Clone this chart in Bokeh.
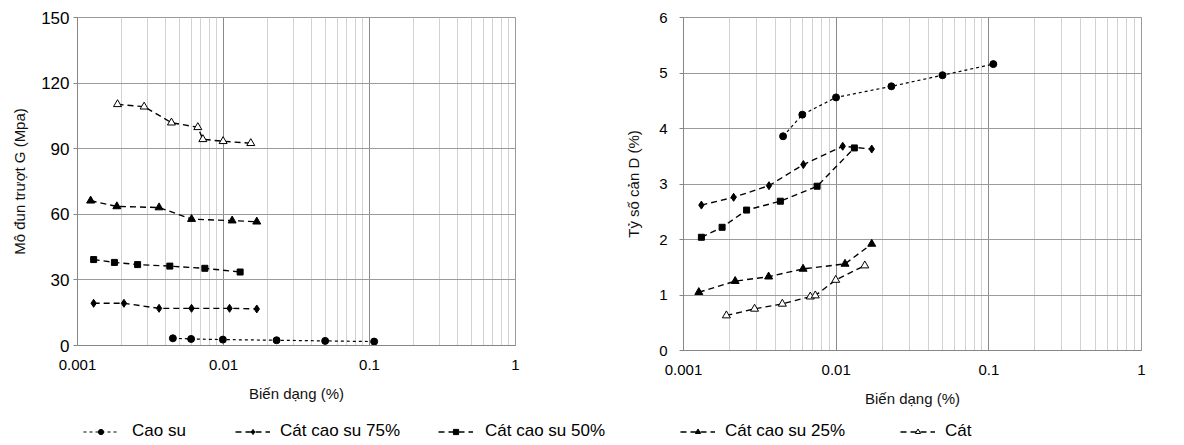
from bokeh.plotting import figure
from bokeh.layouts import column, row
from bokeh.models import (ColumnDataSource, Legend, LegendItem, FixedTicker,
                          Range1d, NumeralTickFormatter)
from bokeh.core.properties import value
from bokeh.embed import file_html
from bokeh.resources import INLINE

# ---------------- data ----------------
series_names = ["Cao su", "Cát cao su 75%", "Cát cao su 50%", "Cát cao su 25%", "Cát"]

# Left chart: shear modulus G (MPa) vs strain (%)
g_cao_su_x = [0.0045, 0.0060, 0.0099, 0.0231, 0.0497, 0.1076]
g_cao_su_y = [3.3, 3.0, 2.7, 2.4, 2.1, 1.8]
g_75_x = [0.00129, 0.00208, 0.00362, 0.00604, 0.0110, 0.0169]
g_75_y = [19.3, 19.3, 17.0, 17.0, 17.0, 16.7]
g_50_x = [0.00129, 0.00179, 0.00258, 0.00429, 0.00745, 0.0130]
g_50_y = [39.3, 38.0, 37.0, 36.3, 35.3, 33.6]
g_25_x = [0.00123, 0.00186, 0.00362, 0.00604, 0.01146, 0.0169]
g_25_y = [66.2, 63.6, 63.1, 57.8, 57.1, 56.6]
g_cat_x = [0.00188, 0.00286, 0.00440, 0.00667, 0.00722, 0.00994, 0.01538]
g_cat_y = [110.3, 109.2, 101.9, 99.8, 94.3, 93.4, 92.5]

# Right chart: damping ratio D (%) vs strain (%)
d_cao_su_x = [0.00449, 0.0060, 0.00998, 0.0230, 0.0497, 0.107]
d_cao_su_y = [3.86, 4.25, 4.56, 4.76, 4.96, 5.16]
d_75_x = [0.00131, 0.00213, 0.00363, 0.0061, 0.01104, 0.0171]
d_75_y = [2.62, 2.76, 2.97, 3.35, 3.68, 3.63]
d_50_x = [0.00131, 0.00179, 0.00259, 0.00431, 0.0075, 0.01316]
d_50_y = [2.04, 2.22, 2.53, 2.69, 2.96, 3.65]
d_25_x = [0.00126, 0.00218, 0.00361, 0.00607, 0.01143, 0.0171]
d_25_y = [1.05, 1.25, 1.33, 1.47, 1.56, 1.92]
d_cat_x = [0.00191, 0.00292, 0.00444, 0.00677, 0.0073, 0.00993, 0.0154]
d_cat_y = [0.63, 0.75, 0.84, 0.97, 0.99, 1.27, 1.53]

x_ticks = [0.001, 0.01, 0.1, 1]
g_ticks = [0, 30, 60, 90, 120, 150]
d_ticks = [0, 1, 2, 3, 4, 5, 6]

g_series = [(g_cao_su_x, g_cao_su_y), (g_75_x, g_75_y), (g_50_x, g_50_y),
            (g_25_x, g_25_y), (g_cat_x, g_cat_y)]
d_series = [(d_cao_su_x, d_cao_su_y), (d_75_x, d_75_y), (d_50_x, d_50_y),
            (d_25_x, d_25_y), (d_cat_x, d_cat_y)]

# ---------------- styles ----------------
FONT = "Liberation Sans"
styles = [
    dict(marker="circle", size=7, fill="black", dash="3 3", lw=1.2),
    dict(marker="diamond", size=8, fill="black", dash="6 4", lw=1.4),
    dict(marker="square", size=6, fill="black", dash="6 4", lw=1.4),
    dict(marker="triangle", size=8, fill="black", dash="6 4", lw=1.4),
    dict(marker="triangle", size=8, fill="white", dash="6 4", lw=1.4),
]
minor = [m * 10.0 ** e for e in (-3, -2, -1) for m in range(2, 10)]


def make_fig(series, yticks, ymax, ylabel, width, bl, br, bt, fw, fh,
             ylab_standoff, ytick_size, ytick_standoff):
    p = figure(width=width, height=410, x_axis_type="log",
               x_range=Range1d(0.001, 1), y_range=Range1d(0, ymax),
               output_backend="svg", toolbar_location=None,
               min_border_left=bl, min_border_right=br, min_border_top=bt,
               min_border_bottom=410 - bt - fh, frame_width=fw, frame_height=fh)
    p.xaxis.ticker = FixedTicker(ticks=x_ticks, minor_ticks=minor)
    p.xaxis.formatter = NumeralTickFormatter(format="0.[000]")
    p.yaxis.ticker = FixedTicker(ticks=yticks)
    p.xgrid.grid_line_color = "#8a8a8a"
    p.xgrid.minor_grid_line_color = "#d2d2d2"
    p.ygrid.grid_line_color = "#9a9a9a"
    p.outline_line_color = "#9a9a9a"
    for ax in (p.xaxis[0], p.yaxis[0]):
        ax.axis_line_color = "#868686"
        ax.major_tick_line_color = "#868686"
        ax.minor_tick_line_color = None
        ax.major_label_text_font = FONT
        ax.major_label_text_font_size = "15px"
        ax.major_label_text_color = "black"
        ax.axis_label_text_font = FONT
        ax.axis_label_text_font_size = "15px"
        ax.axis_label_text_font_style = "normal"
        ax.axis_label_text_color = "#111111"
    p.yaxis.major_label_text_font_size = ytick_size
    p.xaxis.major_tick_out = 0
    p.xaxis.major_tick_in = 0
    p.yaxis.major_tick_out = 4
    p.yaxis.major_tick_in = 0
    p.xaxis.major_label_standoff = 10
    p.yaxis.major_label_standoff = ytick_standoff
    p.xaxis.axis_label = "Biến dạng (%)"
    p.xaxis.axis_label_standoff = 12
    p.yaxis.axis_label = ylabel
    p.yaxis.axis_label_standoff = ylab_standoff
    for (xs, ys), st in zip(series, styles):
        src = ColumnDataSource(data=dict(x=xs, y=ys))
        p.line("x", "y", source=src, line_color="black", line_width=st["lw"],
               line_dash=st["dash"])
        p.scatter("x", "y", source=src, marker=st["marker"], size=st["size"],
                  fill_color=st["fill"], line_color="black", line_width=1)
    return p


p1 = make_fig(g_series, g_ticks, 150, "Mô đun trượt G (Mpa)", 600, 77, 85, 15, 438, 328,
              10, "17px", 4)
p2 = make_fig(d_series, d_ticks, 6, "Tỷ số cản D (%)", 584, 83, 43, 17, 458, 333,
              14, "15px", 12)

# ---------------- legend strip ----------------
pl = figure(width=1184, height=35, output_backend="svg", toolbar_location=None,
            x_axis_type=None, y_axis_type=None, min_border=0,
            x_range=Range1d(0, 1), y_range=Range1d(0, 1))
pl.outline_line_color = None
pl.xgrid.visible = False
pl.ygrid.visible = False
legend_x = [83, 235, 438, 680, 900]
legend_standoff = [14, 10, 12, 10, 10]
# proxy glyphs for the legend, placed outside the (hidden) visible range
proxy_x = [-5.0, -4.0]
proxy_y = [-5.0, -4.0]
for name, st, lx, so in zip(series_names, styles, legend_x, legend_standoff):
    src = ColumnDataSource(data=dict(x=proxy_x, y=proxy_y))
    r1 = pl.line("x", "y", source=src, line_color="black", line_width=st["lw"],
                 line_dash=st["dash"])
    r2 = pl.scatter("x", "y", source=src, marker=st["marker"], size=st["size"] - 2,
                    fill_color=st["fill"], line_color="black", line_width=1)
    leg = Legend(items=[LegendItem(label=value(name), renderers=[r1, r2], index=0)],
                 location=(lx, 4), padding=0, margin=0, border_line_color=None,
                 background_fill_alpha=0, glyph_width=35, glyph_height=13,
                 label_standoff=so, label_height=20,
                 label_text_font=FONT, label_text_font_size="17px",
                 label_text_color="black")
    pl.add_layout(leg)

layout = column(row(p1, p2, spacing=0), pl, spacing=0)
open("out.html", "w").write(file_html(layout, INLINE))
